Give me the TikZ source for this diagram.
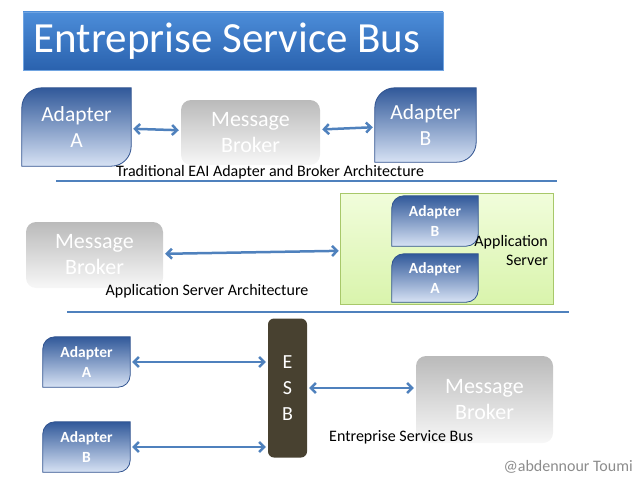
\documentclass[tikz,border=0pt]{standalone}
\usepackage{fontspec}
\setmainfont{Carlito}
\usetikzlibrary{arrows.meta}
\pgfdeclarelayer{background}
\pgfsetlayers{background,main}
\definecolor{titletop}{HTML}{4C8DD9}
\definecolor{titlebot}{HTML}{2A62AE}
\definecolor{adtop}{HTML}{31599A}
\definecolor{adbot}{HTML}{D7E2F4}
\definecolor{adline}{HTML}{2F528F}
\definecolor{linkblue}{HTML}{4F81BD}
\definecolor{srvtop}{HTML}{F1FDDB}
\definecolor{srvbot}{HTML}{D9F4AC}
\definecolor{srvline}{HTML}{A8C86A}
\definecolor{esbfill}{HTML}{484130}
\tikzset{
  adapter/.style={inner sep=0pt, align=center, text=white},
  bigadapter/.style={adapter, font=\fontsize{21.5}{26}\selectfont},
  smalladapter/.style={adapter, font=\bfseries\fontsize{15.5}{20}\selectfont},
  broker/.style={inner sep=0pt, align=center, text=white, rounded corners=10pt,
    top color=black!27, bottom color=black!3, font=\fontsize{22}{26}\selectfont},
  caption/.style={inner sep=0pt, font=\fontsize{16}{19}\selectfont},
  link/.style={{Straight Barb[length=5pt,width=10pt]}-{Straight Barb[length=5pt,width=10pt]},
    draw=linkblue, line width=2.5pt, shorten <=2pt, shorten >=2pt},
  rule/.style={draw=linkblue, line width=2.5pt}
}
\newcommand{\adapterbg}[2]{% node name, corner radius
  \shade[top color=adtop, bottom color=adbot, draw=adline, line width=0.8pt]
    (#1.south west) -- ([yshift=-#2]#1.north west)
    arc[start angle=180, end angle=90, radius=#2] -- (#1.north east)
    -- ([yshift=#2]#1.south east)
    arc[start angle=0, end angle=-90, radius=#2] -- cycle;}
\begin{document}
\begin{tikzpicture}[x=1pt, y=-1pt]
  \useasboundingbox (0,0) rectangle (640,487);
  % title
  \node[inner sep=0pt, minimum width=420pt, minimum height=58pt, top color=titletop,
    bottom color=titlebot, draw=titletop!80!white, text=white,
    font=\fontsize{43}{45}\selectfont] (title) at (233,41) {\hspace*{-12pt}Entreprise Service Bus};
  % traditional EAI
  \node[bigadapter, minimum width=109pt, minimum height=78pt] (adA) at (76.5,127) {Adapter\\A};
  \node[broker, minimum width=139pt, minimum height=65pt] (mbA) at (250.5,132.5) {Message\\Broker};
  \node[bigadapter, minimum width=101pt, minimum height=74pt] (adB) at (425.5,125) {Adapter\\B};
  \draw[link] (adA) -- (mbA);
  \draw[link] (mbA) -- (adB);
  \node[caption] (capA) at (270,172) {Traditional EAI Adapter and Broker Architecture};
  \draw[rule] (56,181) -- (557,181);
  % application server
  \node[inner sep=0pt, minimum width=212pt, minimum height=110pt] (appsrv) at (447,249) {};
  \node[smalladapter, minimum width=86pt, minimum height=50pt] (asB) at (435,221) {Adapter\\B};
  \node[smalladapter, minimum width=86pt, minimum height=48pt] (asA) at (435,278) {Adapter\\A};
  \node[caption, align=right, anchor=east] (srvtext) at (548,250) {Application\\Server};
  \node[broker, minimum width=137pt, minimum height=66pt] (mbB) at (94.5,255) {Message\\Broker};
  \draw[link] (mbB) -- (appsrv);
  \node[caption] (capB) at (207,291) {Application Server Architecture};
  \draw[rule] (67,312) -- (569,312);
  % esb
  \node[inner sep=0pt, minimum width=39pt, minimum height=139pt, rounded corners=6pt,
    fill=esbfill, text=white, align=center, font=\fontsize{20}{26}\selectfont]
    (esb) at (287.5,388) {E\\S\\B};
  \node[smalladapter, minimum width=87pt, minimum height=50pt] (adA3) at (86.5,362) {Adapter\\A};
  \node[smalladapter, minimum width=87pt, minimum height=50pt] (adB3) at (86.5,447) {Adapter\\B};
  \node[broker, minimum width=137pt, minimum height=87pt] (mbC) at (484.5,399.5) {Message\\Broker};
  \draw[link] (adA3) -- (esb.west |- adA3);
  \draw[link] (adB3) -- (esb.west |- adB3);
  \draw[link] (esb) -- (mbC.west |- esb);
  \node[caption, anchor=west] (capC) at (329,437) {Entreprise Service Bus};
  \node[inner sep=0pt, text=black!45, font=\fontsize{16}{18}\selectfont, anchor=east]
    (credit) at (633,467) {@abdennour Toumi};
  % server box and adapter shapes behind their text
  \begin{pgfonlayer}{background}
    \shade[top color=srvtop, bottom color=srvbot, draw=srvline, line width=0.8pt]
      (appsrv.south west) rectangle (appsrv.north east);
    \adapterbg{adA}{20pt}
    \adapterbg{adB}{20pt}
    \adapterbg{asB}{12pt}
    \adapterbg{asA}{12pt}
    \adapterbg{adA3}{12pt}
    \adapterbg{adB3}{12pt}
  \end{pgfonlayer}
\end{tikzpicture}
\end{document}
